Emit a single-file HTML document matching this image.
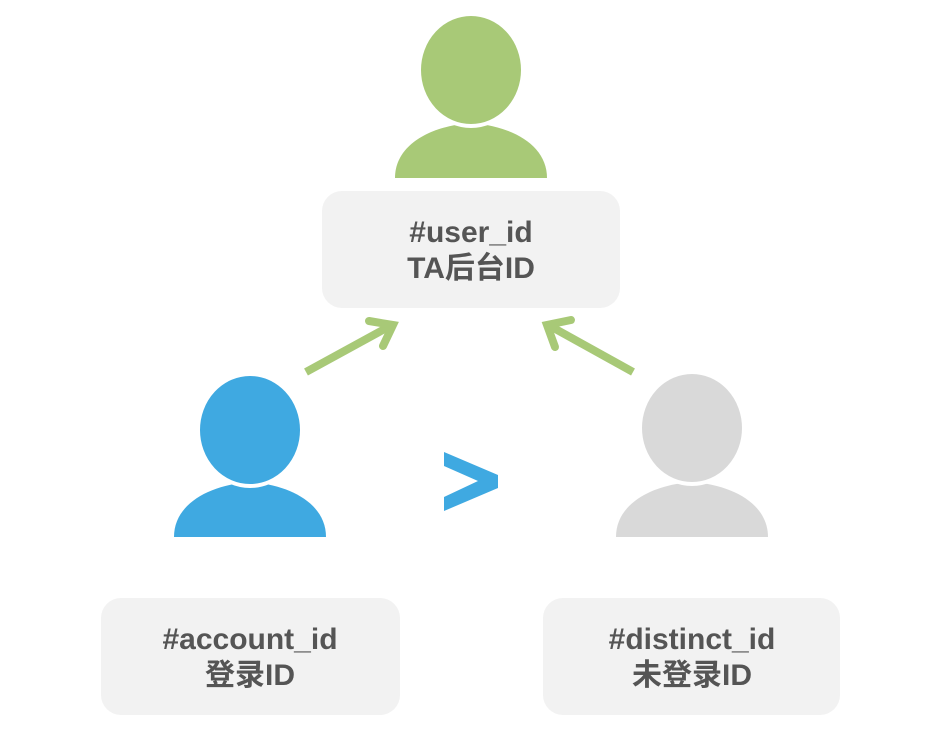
<!DOCTYPE html>
<html><head><meta charset="utf-8"><style>
html,body{margin:0;padding:0;background:#fff;width:943px;height:753px;overflow:hidden}
svg{display:block}
text{font-family:"Liberation Sans","Noto Sans CJK SC",sans-serif;font-weight:bold;fill:#555;font-size:30px;text-anchor:middle}
</style></head><body>
<svg width="943" height="753" viewBox="0 0 943 753">
<path d="M395,178 C395,145 430,126 471,123 C512,126 547,145 547,178 Z" fill="#a8c977"/>
<ellipse cx="471" cy="70" rx="52" ry="56" fill="#a8c977" stroke="#fff" stroke-width="4"/>
<path d="M174,537 C174,504 209,485 250,482 C291,485 326,504 326,537 Z" fill="#3fa9e1"/>
<ellipse cx="250" cy="430" rx="52" ry="56" fill="#3fa9e1" stroke="#fff" stroke-width="4"/>
<path d="M616,537 C616,504 651,485 692,482 C733,485 768,504 768,537 Z" fill="#d9d9d9"/>
<ellipse cx="692" cy="428" rx="52" ry="56" fill="#d9d9d9" stroke="#fff" stroke-width="4"/>
<rect x="322" y="191" width="298" height="117" rx="20" fill="#f2f2f2"/>
<rect x="101" y="598" width="299" height="117" rx="20" fill="#f2f2f2"/>
<rect x="543" y="598" width="297" height="117" rx="20" fill="#f2f2f2"/>
<text x="471" y="242">#user_id</text>
<text x="471" y="278">TA后台ID</text>
<text x="250" y="649">#account_id</text>
<text x="250" y="685">登录ID</text>
<text x="692" y="649">#distinct_id</text>
<text x="692" y="685">未登录ID</text>
<g stroke="#a8c977" stroke-width="8" fill="none">
<line x1="306" y1="372" x2="390" y2="326"/>
<polyline points="369,321 393,325 383,346" stroke-linecap="round" stroke-linejoin="miter"/>
<line x1="633" y1="372" x2="550" y2="326"/>
<polyline points="571,320 547,325 555,347" stroke-linecap="round" stroke-linejoin="miter"/>
</g>
<polygon points="444,452 498,475 498,488 444,511 444,497 478,481 444,466" fill="#3fa9e1"/>
</svg>
</body></html>
